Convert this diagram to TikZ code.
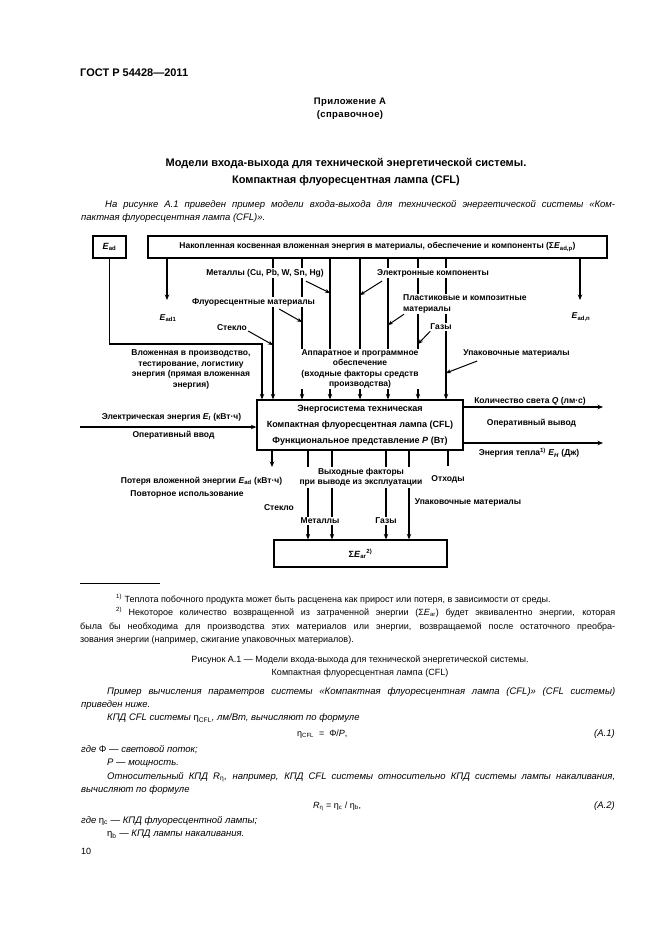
\documentclass[tikz,border=0pt]{standalone}
\usepackage{fontspec}
\setmainfont{Liberation Sans}
\usetikzlibrary{arrows.meta, calc}

\tikzset{
  % frames of the model
  frm/.style={draw, line width=1.3pt, inner sep=0pt, align=center},
  % labels inside the figure (white ground cuts the lines behind them)
  lbl/.style={font=\fontsize{8.5}{10.4}\selectfont\bfseries, inner sep=1pt,
    fill=white, align=center},
  lbf/.style={lbl, fill=none},
  A/.style={line width=1.3pt, -{Stealth[length=5.5pt,width=4.5pt]}},
  Ad/.style={line width=1pt, -{Stealth[length=5pt,width=4pt]}},
  % page text
  hdr/.style={font=\fontsize{11}{13}\selectfont\bfseries, inner sep=0pt},
  ttl/.style={font=\fontsize{11}{13}\selectfont\bfseries, inner sep=0pt},
  apx/.style={font=\fontsize{9.5}{11}\selectfont\bfseries\addfontfeatures{LetterSpace=4}, inner sep=0pt},
  txt/.style={font=\fontsize{9}{11}\selectfont, inner sep=0pt},
  itx/.style={font=\fontsize{9.5}{11}\selectfont\itshape, inner sep=0pt},
}
\newcommand{\Ead}{\textit{E}\textsubscript{ad}}

\begin{document}
\begin{tikzpicture}[x=1pt, y=-1pt]
\fill[white] (0,0) rectangle (661,936);
\useasboundingbox (0,0) rectangle (661,936);

% ---------------- page head ----------------
\node[hdr, anchor=mid west] (gost) at (80,74) {ГОСТ Р 54428—2011};
\node[apx] (apx1) at (350,102) {Приложение А};
\node[apx] (apx2) at (350,115) {(справочное)};
\node[ttl] (tl1) at (346,164) {Модели входа-выхода для технической энергетической системы.};
\node[ttl] (tl2) at (346,181) {Компактная флуоресцентная лампа (CFL)};
\node[itx, anchor=mid west] (p1) at (105,205) {\makebox[510pt][s]{На рисунке А.1 приведен пример модели входа-выхода для технической энергетической системы «Ком-}};
\node[itx, anchor=mid west] (p2) at (81,218) {пактная флуоресцентная лампа (CFL)».};

% ---------------- model: frames ----------------
\node[frm, minimum width=33pt, minimum height=22pt,
  font=\fontsize{9}{11}\selectfont\bfseries] (ead) at (109.5,247) {\Ead};
\node[frm, minimum width=459pt, minimum height=22pt,
  font=\fontsize{8.5}{10}\selectfont\bfseries] (acc) at (377.5,247)
  {Накопленная косвенная вложенная энергия в материалы, обеспечение и компоненты (Σ\textit{E}\textsubscript{ad,p})};
\node[frm, minimum width=206pt, minimum height=50pt,
  font=\fontsize{9}{16}\selectfont\bfseries] (sys) at (360,425)
  {Энергосистема техническая\\Компактная флуоресцентная лампа (CFL)\\Функциональное представление \textit{P} (Вт)};
\node[frm, minimum width=173pt, minimum height=27pt,
  font=\fontsize{9}{11}\selectfont\bfseries] (ret) at (360.5,553.5)
  {Σ\textit{E}\textsubscript{ar}\textsuperscript{2)}};

% ---------------- model: lines ----------------
% feeds from the stock of materials down into the system
\foreach \x [count=\i] in {273,302,330,360,388,418,446}{
  \coordinate (v\i) at (\x,0);
  \draw[A] (acc.south -| v\i) -- (sys.north -| v\i);
}
% direct embodied energy
\coordinate (eadC) at (262,344);
\draw[A] (ead.south) |- (eadC) -- (sys.north -| eadC);
% first and last share
\coordinate (e1) at (167,300);
\coordinate (en) at (580,300);
\draw[A] (acc.south -| e1) -- (e1);
\draw[A] (acc.south -| en) -- (en);
% operating input / output
\coordinate (inL) at (80,427);
\coordinate (oQ) at (603,407);
\coordinate (oH) at (603,443);
\draw[A] (inL) -- (sys.west |- inL);
\draw[A] (sys.east |- oQ) -- (oQ);
\draw[A] (sys.east |- oH) -- (oH);
% end of life
\coordinate (ls) at (272,467);
\draw[A] (sys.south -| ls) -- (ls);
\foreach \x [count=\i] in {308,332,386,409}{
  \coordinate (b\i) at (\x,0);
  \draw[A] (sys.south -| b\i) -- (ret.north -| b\i);
}
\coordinate (wE) at (448,466);
\draw[line width=1.3pt] (sys.south -| wE) -- (wE);

% ---------------- model: labels ----------------
\node[lbf] (lead1) at (168,318) {\textit{E}\textsubscript{ad1}};
\node[lbf] (leadn) at (581,317) {\textit{E}\textsubscript{ad,n}};
\node[lbl] (met) at (265,273) {Металлы (Cu, Pb, W, Sn, Hg)};
\node[lbl] (flu) at (253.5,302) {Флуоресцентные материалы};
\node[lbl] (gls) at (232,328) {Стекло};
\node[lbl] (ele) at (433,273) {Электронные компоненты};
\node[lbl, align=left, anchor=west] (pla) at (402,304) {Пластиковые и композитные\\материалы};
\node[lbl] (gas) at (441,327) {Газы};
\node[lbl] (hw) at (360,369) {Аппаратное и программное\\обеспечение\\(входные факторы средств\\производства)};
\node[lbl] (emb) at (191,369.5) {Вложенная в производство,\\тестирование, логистику\\энергия (прямая вложенная\\энергия)};
\node[lbl] (pak) at (516.5,353) {Упаковочные материалы};
\node[lbf] (inp) at (171.5,417) {Электрическая энергия \textit{E}\textsubscript{\textit{I}} (кВт·ч)};
\node[lbf] (opin) at (173.5,435) {Оперативный ввод};
\node[lbf] (oq) at (530,401) {Количество света \textit{Q} (лм·с)};
\node[lbf] (opout) at (531.5,423) {Оперативный вывод};
\node[lbf] (oh) at (529,453) {Энергия тепла\textsuperscript{1)} \textit{E}\textsubscript{\textit{H}} (Дж)};
\node[lbf] (loss) at (201.5,481) {Потеря вложенной энергии \Ead\ (кВт·ч)};
\node[lbf] (reuse) at (187,494) {Повторное использование};
\node[lbl] (outf) at (361,477.5) {Выходные факторы\\при выводе из эксплуатации};
\node[lbf] (wst) at (448,479) {Отходы};
\node[lbf] (gls2) at (279,508) {Стекло};
\node[lbl] (met2) at (320,521) {Металлы};
\node[lbl] (gas2) at (386,521) {Газы};
\node[lbf] (pak2) at (468,502) {Упаковочные материалы};

% pointers from the material names to their lines
\coordinate (metE) at (330,293);
\coordinate (fluE) at (302,322);
\coordinate (glsE) at (273,345);
\coordinate (eleE) at (360,295);
\coordinate (plaE) at (388,325);
\coordinate (gasE) at (418,344);
\coordinate (pakE) at (446,373);
\draw[Ad] ([xshift=-19pt,yshift=-3pt]met.south east) -- (metE);
\draw[Ad] ([xshift=-37pt,yshift=-2pt]flu.south east) -- (fluE);
\draw[Ad] ([yshift=-3pt]gls.east) -- (glsE);
\draw[Ad] ([xshift=6pt,yshift=-3pt]ele.south west) -- (eleE);
\draw[Ad] ([xshift=2pt]pla.south west) -- (plaE);
\draw[Ad] ([xshift=1pt]gas.south west) -- (gasE);
\draw[Ad] ([xshift=15pt,yshift=-3pt]pak.south west) -- (pakE);

% ---------------- footnotes and caption ----------------
\draw[line width=0.6pt] (80,583) -- (160,583);
\node[txt, anchor=mid west] (fn1) at (116,600) {\textsuperscript{1)} Теплота побочного продукта может быть расценена как прирост или потеря, в зависимости от среды.};
\node[txt, anchor=mid west] (fn2) at (116,613) {\makebox[499pt][s]{\textsuperscript{2)} Некоторое количество возвращенной из затраченной энергии (Σ\textit{E}\textsubscript{ar}) будет эквивалентно энергии, которая}};
\node[txt, anchor=mid west] (fn3) at (80,627) {\makebox[535pt][s]{была бы необходима для производства этих материалов или энергии, возвращаемой после остаточного преобра-}};
\node[txt, anchor=mid west] (fn4) at (80,640) {зования энергии (например, сжигание упаковочных материалов).};
\node[txt] (cap1) at (360,660) {Рисунок  А.1 — Модели входа-выхода для технической энергетической системы.};
\node[txt] (cap2) at (360,673) {Компактная флуоресцентная лампа (CFL)};

% ---------------- worked example ----------------
\node[itx, anchor=mid west] (q1) at (107,692) {\makebox[508pt][s]{Пример вычисления параметров системы «Компактная флуоресцентная лампа (CFL)» (CFL системы)}};
\node[itx, anchor=mid west] (q2) at (81,705) {приведен ниже.};
\node[itx, anchor=mid west] (q3) at (107,718) {КПД CFL системы \textup{η\textsubscript{CFL}}, лм/Вт, вычисляют по формуле};
\node[txt, anchor=mid west] (eq1) at (297,734) {η\textsubscript{CFL} \ = \ Φ/\textit{P},};
\node[itx, anchor=mid east] (eq1n) at (615,734) {(А.1)};
\node[itx, anchor=mid west] (q4) at (81,750) {где \textup{Φ} — световой поток;};
\node[itx, anchor=mid west] (q5) at (107,763) {P — мощность.};
\node[itx, anchor=mid west] (q6) at (107,777) {\makebox[508pt][s]{Относительный КПД \textit{R}\textsubscript{\textup{η}}, например, КПД CFL системы относительно КПД системы лампы накаливания,}};
\node[itx, anchor=mid west] (q7) at (81,790) {вычисляют по формуле};
\node[txt, anchor=mid west] (eq2) at (313,806) {\textit{R}\textsubscript{η} = η\textsubscript{c} / η\textsubscript{b},};
\node[itx, anchor=mid east] (eq2n) at (615,806) {(А.2)};
\node[itx, anchor=mid west] (q8) at (81,821) {где \textup{η\textsubscript{c}} — КПД флуоресцентной лампы;};
\node[itx, anchor=mid west] (q9) at (107,834) {\textup{η\textsubscript{b}} — КПД лампы накаливания.};
\node[txt, anchor=mid west] (pg) at (81,852) {10};
\end{tikzpicture}
\end{document}
